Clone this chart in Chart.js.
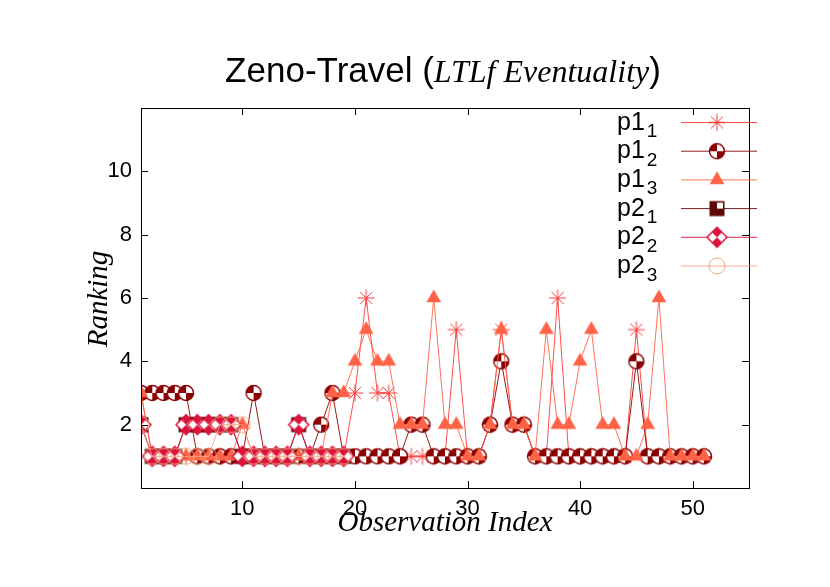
<!DOCTYPE html>
<html lang="en">
<head>
<meta charset="UTF-8">
<title>Zeno-Travel (LTLf Eventuality)</title>
<script src="https://cdn.jsdelivr.net/npm/chart.js"></script>
<style>
    html, body { margin: 0; padding: 0; background: #fff; }
    .chart-box { width: 830px; height: 587px; }
</style>
</head>
<body>
<div class="chart-box"><canvas id="rank-chart"></canvas></div>
<script>
    // observation indices (x) and the rankings of each plan/goal series
    const obsIndex = [1, 2, 3, 4, 5, 6, 7, 8, 9, 10, 11, 12, 13, 14, 15, 16, 17, 18, 19, 20,
        21, 22, 23, 24, 25, 26, 27, 28, 29, 30, 31, 32, 33, 34, 35, 36, 37, 38, 39, 40,
        41, 42, 43, 44, 45, 46, 47, 48, 49, 50, 51];

    const p1_1 = [3, 1, 1, 1, 1, 1, 1, 1, 1, 1, 1, 1, 1, 1, 1, 1, 1, 1, 1, 3,
        6, 3, 3, 1, 1, 1, 1, 1, 5, 1, 1, 2, 5, 2, 2, 1, 1, 6, 1, 1,
        1, 1, 1, 1, 5, 1, 1, 1, 1, 1, 1];
    const p1_2 = [3, 3, 3, 3, 3, 1, 1, 1, 1, 1, 3, 1, 1, 1, 1, 1, 2, 3, 1, 1,
        1, 1, 1, 1, 2, 2, 1, 1, 1, 1, 1, 2, 4, 2, 2, 1, 1, 1, 1, 1,
        1, 1, 1, 1, 4, 1, 1, 1, 1, 1, 1];
    const p1_3 = [3, 1, 1, 1, 1, 1, 1, 1, 1, 2, 1, 1, 1, 1, 1, 1, 1, 3, 3, 4,
        5, 4, 4, 2, 2, 2, 6, 2, 2, 1, 1, 2, 5, 2, 2, 1, 5, 2, 2, 4,
        5, 2, 2, 1, 1, 2, 6, 1, 1, 1, 1];
    const p2_1 = [2, 1, 1, 1, 2, 2, 2, 2, 2, 1, 1, 1, 1, 1, 2, 1, 1, 1, 1];
    const p2_2 = [2, 1, 1, 1, 2, 2, 2, 2, 2, 1, 1, 1, 1, 1, 2, 1, 1, 1, 1];
    const p2_3 = [2, 1, 1, 1, 1, 1, 1, 2, 2, 2, 1, 1, 1, 1, 1, 1, 1, 1, 1];

    const seriesNames = [['p1', '1'], ['p1', '2'], ['p1', '3'], ['p2', '1'], ['p2', '2'], ['p2', '3']];
    const xTicks = [10, 20, 30, 40, 50];
    const yTicks = [2, 4, 6, 8, 10];

    const colors = ['#ff3a3a', '#8b0000', '#ff6347', '#5e0808', '#dc143c', '#f4a582'];

    // marker images, drawn like the gnuplot point types
    function makeMarker(size, draw) {
        const c = document.createElement('canvas');
        c.width = size;
        c.height = size;
        const ctx = c.getContext('2d');
        ctx.translate(size / 2, size / 2);
        draw(ctx);
        return c;
    }

    const markers = [
        makeMarker(20, ctx => { // asterisk
            ctx.strokeStyle = colors[0];
            ctx.lineWidth = 1;
            ctx.beginPath();
            for (let a = 0; a < 4; a++) {
                const t = a * Math.PI / 4;
                ctx.moveTo(-Math.cos(t) * 8.5, -Math.sin(t) * 8.5);
                ctx.lineTo(Math.cos(t) * 8.5, Math.sin(t) * 8.5);
            }
            ctx.stroke();
        }),
        makeMarker(20, ctx => { // circle, two quadrants filled
            const r = 7.5;
            ctx.fillStyle = '#fff';
            ctx.beginPath(); ctx.arc(0, 0, r, 0, Math.PI * 2); ctx.fill();
            ctx.fillStyle = colors[1];
            ctx.beginPath(); ctx.moveTo(0, 0); ctx.arc(0, 0, r, Math.PI, Math.PI * 1.5); ctx.closePath(); ctx.fill();
            ctx.beginPath(); ctx.moveTo(0, 0); ctx.arc(0, 0, r, 0, Math.PI * 0.5); ctx.closePath(); ctx.fill();
            ctx.strokeStyle = colors[1];
            ctx.lineWidth = 1.4;
            ctx.beginPath(); ctx.arc(0, 0, r, 0, Math.PI * 2); ctx.stroke();
        }),
        makeMarker(22, ctx => { // filled triangle
            const r = 8.5;
            ctx.fillStyle = colors[2];
            ctx.beginPath();
            ctx.moveTo(0, -r);
            ctx.lineTo(r * 0.866, r * 0.5);
            ctx.lineTo(-r * 0.866, r * 0.5);
            ctx.closePath();
            ctx.fill();
        }),
        makeMarker(20, ctx => { // box, one quadrant white
            const h = 7.5;
            ctx.fillStyle = colors[3];
            ctx.fillRect(-h, -h, h * 2, h * 2);
            ctx.fillStyle = '#fff';
            ctx.fillRect(0, -h + 1.5, h - 1.5, h - 1.5);
        }),
        makeMarker(24, ctx => { // diamond, two quadrants filled
            const h = 10;
            ctx.fillStyle = '#fff';
            ctx.beginPath();
            ctx.moveTo(0, -h); ctx.lineTo(h, 0); ctx.lineTo(0, h); ctx.lineTo(-h, 0); ctx.closePath();
            ctx.fill();
            ctx.fillStyle = colors[4];
            ctx.beginPath();
            ctx.moveTo(0, -h); ctx.lineTo(h / 2, -h / 2); ctx.lineTo(0, 0); ctx.lineTo(-h / 2, -h / 2); ctx.closePath();
            ctx.moveTo(0, h); ctx.lineTo(h / 2, h / 2); ctx.lineTo(0, 0); ctx.lineTo(-h / 2, h / 2); ctx.closePath();
            ctx.fill();
            ctx.strokeStyle = colors[4];
            ctx.lineWidth = 1.5;
            ctx.beginPath();
            ctx.moveTo(0, -h); ctx.lineTo(h, 0); ctx.lineTo(0, h); ctx.lineTo(-h, 0); ctx.closePath();
            ctx.stroke();
        }),
        makeMarker(20, ctx => { // open circle
            ctx.strokeStyle = colors[5];
            ctx.lineWidth = 1;
            ctx.beginPath(); ctx.arc(0, 0, 8, 0, Math.PI * 2); ctx.stroke();
        })
    ];

    function toPoints(values) {
        return values.map((v, i) => ({x: obsIndex[i], y: v}));
    }

    const seriesValues = [p1_1, p1_2, p1_3, p2_1, p2_2, p2_3];

    const datasets = seriesValues.map((values, i) => ({
        label: seriesNames[i].join('_'),
        data: toPoints(values),
        borderColor: colors[i],
        borderWidth: 0.9,
        pointStyle: markers[i],
        pointRadius: 8,
        fill: false,
        tension: 0,
        order: seriesValues.length - i
    }));

    const tickFont = {family: '"Liberation Sans", Arial, sans-serif', size: 22};

    // inward tick marks on all four sides plus the full border, then the key
    const framePlugin = {
        id: 'framePlugin',
        afterDatasetsDraw(chart) {
            const ctx = chart.ctx;
            const a = chart.chartArea;
            const xs = chart.scales.x;
            const ys = chart.scales.y;
            ctx.save();
            ctx.strokeStyle = '#000';
            ctx.lineWidth = 1;
            ctx.beginPath();
            xTicks.forEach(v => {
                const px = Math.round(xs.getPixelForValue(v)) + 0.5;
                ctx.moveTo(px, a.bottom); ctx.lineTo(px, a.bottom - 7);
                ctx.moveTo(px, a.top); ctx.lineTo(px, a.top + 7);
            });
            yTicks.forEach(v => {
                const py = Math.round(ys.getPixelForValue(v)) + 0.5;
                ctx.moveTo(a.left, py); ctx.lineTo(a.left + 7, py);
                ctx.moveTo(a.right, py); ctx.lineTo(a.right - 7, py);
            });
            ctx.stroke();
            ctx.strokeRect(Math.round(a.left) + 0.5, Math.round(a.top) + 0.5,
                Math.round(a.right - a.left), Math.round(a.bottom - a.top));

            // key
            chart.data.datasets.forEach((ds, i) => {
                const y = 122.5 + i * 28.7;
                ctx.strokeStyle = ds.borderColor;
                ctx.lineWidth = 0.9;
                ctx.beginPath();
                ctx.moveTo(681, y);
                ctx.lineTo(757, y);
                ctx.stroke();
                const m = markers[i];
                ctx.drawImage(m, 717 - m.width / 2, y - m.height / 2);

                const name = seriesNames[i];
                ctx.fillStyle = '#000';
                ctx.textBaseline = 'alphabetic';
                ctx.textAlign = 'left';
                ctx.font = '25px "Liberation Sans", Arial, sans-serif';
                ctx.fillText(name[0], 617, y + 7);
                const mainW = ctx.measureText(name[0]).width;
                ctx.font = '19px "Liberation Sans", Arial, sans-serif';
                ctx.fillText(name[1], 617 + mainW + 2, y + 14.5);
            });
            ctx.restore();
        },
        afterDraw(chart) {
            const ctx = chart.ctx;
            ctx.save();
            ctx.fillStyle = '#000';
            ctx.textBaseline = 'alphabetic';
            ctx.textAlign = 'left';

            // title, mixed sans and italic serif
            const sans = '35px "Liberation Sans", Arial, sans-serif';
            const serif = 'italic 32px "Liberation Serif", "Times New Roman", serif';
            const parts = [['Zeno-Travel (', sans], ['LTLf Eventuality', serif], [')', sans]];
            let total = 0;
            parts.forEach(p => { ctx.font = p[1]; total += ctx.measureText(p[0]).width; });
            let x = 443 - total / 2;
            parts.forEach(p => {
                ctx.font = p[1];
                ctx.fillText(p[0], x, 82);
                x += ctx.measureText(p[0]).width;
            });

            // axis titles
            ctx.font = 'italic 29px "Liberation Serif", "Times New Roman", serif';
            ctx.textAlign = 'center';
            ctx.fillText('Observation Index', 445, 531);
            ctx.translate(107, 299);
            ctx.rotate(-Math.PI / 2);
            ctx.fillText('Ranking', 0, 0);
            ctx.restore();
        }
    };

    new Chart(document.getElementById('rank-chart'), {
        type: 'line',
        data: {datasets: datasets},
        options: {
            responsive: true,
            maintainAspectRatio: false,
            devicePixelRatio: 1,
            animation: false,
            events: [],
            layout: {padding: {top: 108, right: 81, left: 0, bottom: 0}},
            plugins: {
                legend: {display: false},
                title: {display: false},
                tooltip: {enabled: false}
            },
            scales: {
                x: {
                    type: 'linear',
                    min: 1,
                    max: 55,
                    afterBuildTicks: s => { s.ticks = xTicks.map(v => ({value: v})); },
                    afterFit: s => { s.height = 99; },
                    grid: {display: false, drawTicks: false},
                    border: {display: false},
                    ticks: {font: tickFont, color: '#000', padding: 8, maxRotation: 0, autoSkip: false}
                },
                y: {
                    type: 'linear',
                    min: 0,
                    max: 12,
                    afterBuildTicks: s => { s.ticks = yTicks.map(v => ({value: v})); },
                    afterFit: s => { s.width = 141; },
                    grid: {display: false, drawTicks: false},
                    border: {display: false},
                    ticks: {font: tickFont, color: '#000', padding: 9, autoSkip: false}
                }
            }
        },
        plugins: [framePlugin]
    });
</script>
</body>
</html>
